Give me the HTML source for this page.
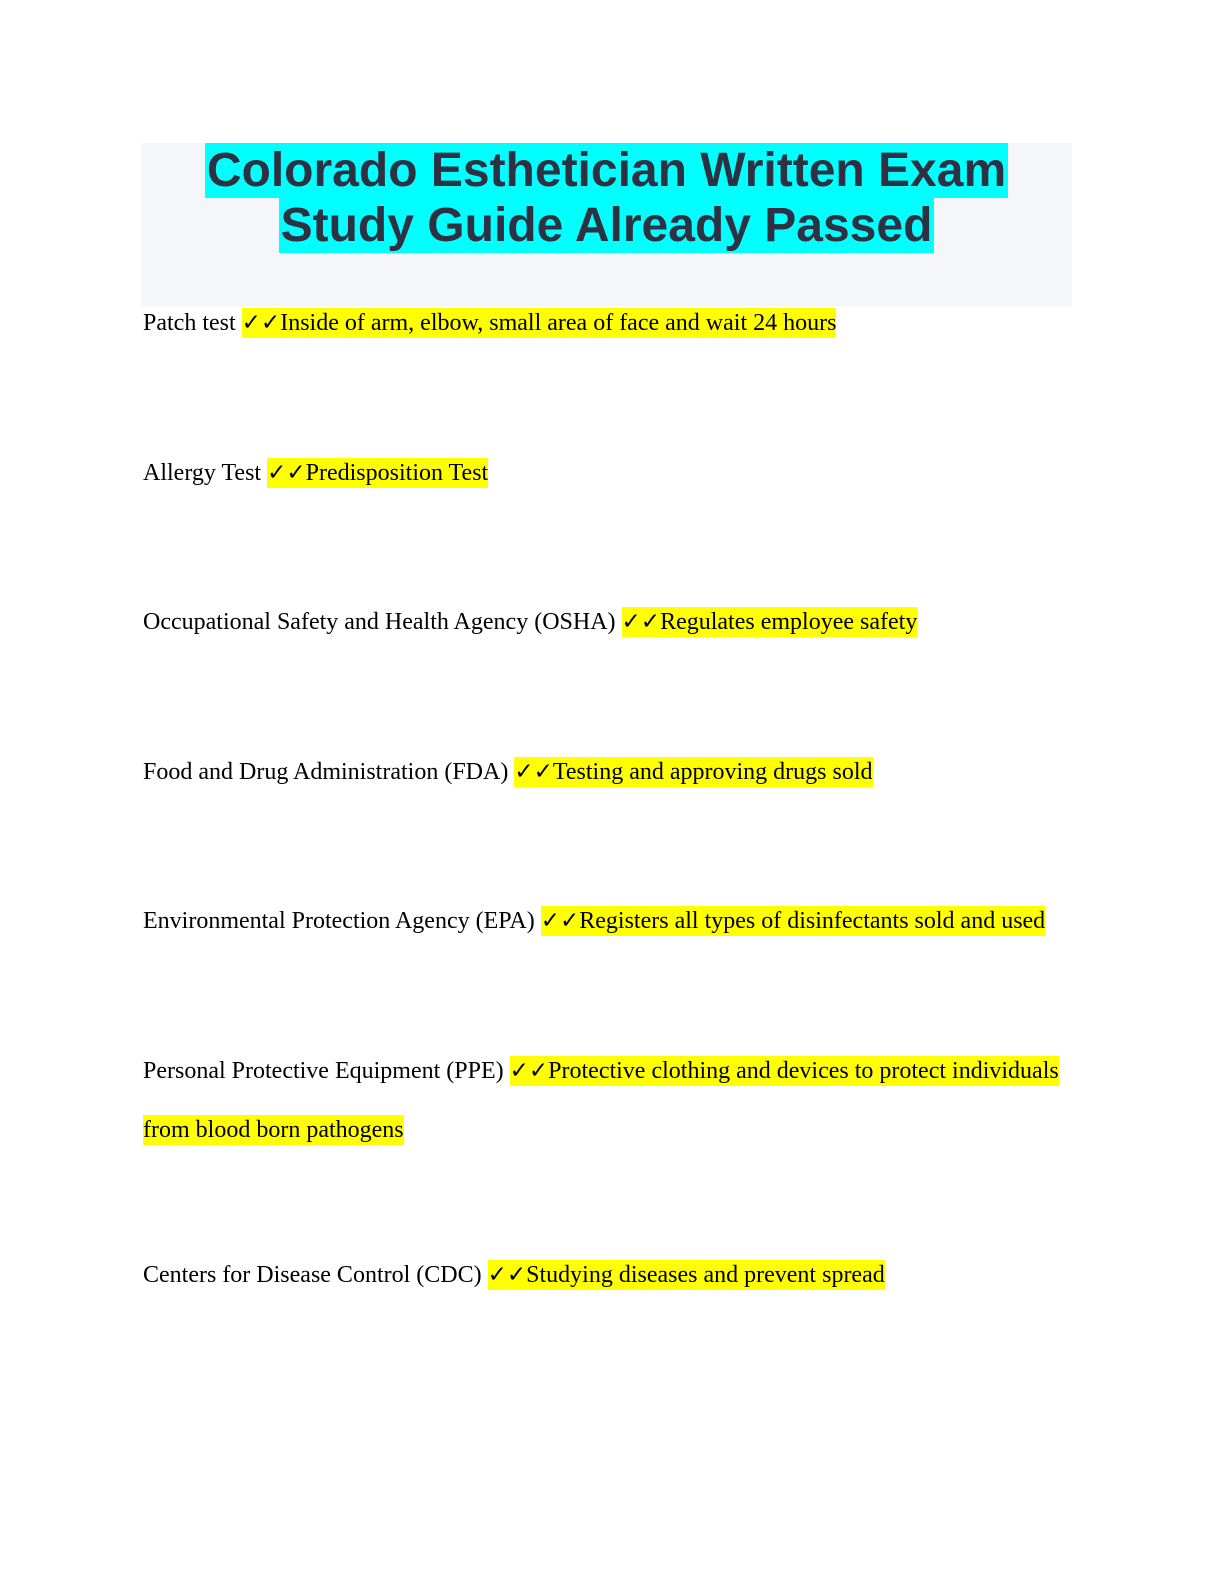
<!DOCTYPE html>
<html><head><meta charset="utf-8"><style>
html,body{margin:0;padding:0;background:#fff;width:1224px;height:1584px;position:relative;overflow:hidden}
.box{position:absolute;left:141px;top:143px;width:931px;height:163px;background:#f5f6fa}
.t{position:absolute;left:141px;width:931px;text-align:center;font-family:"Liberation Sans",sans-serif;font-weight:bold;font-size:48px;line-height:55px;color:#2d3142}
.t span{background:#00ffff;display:inline-block;padding:0 2px}
.l{position:absolute;left:143px;font-family:"Liberation Serif",serif;font-size:24px;line-height:30px;color:#000;white-space:nowrap}
.h{background:#ffff00;display:inline-block;height:30px}
.c{font-family:"DejaVu Sans",sans-serif;font-weight:bold;font-size:23px}
</style></head><body>
<div class="box"></div>
<div class="t" style="top:143px"><span>Colorado Esthetician Written Exam</span></div>
<div class="t" style="top:198px"><span>Study Guide Already Passed</span></div>
<div class="l" style="top:308px">Patch test <span class="h"><span class="c">✓✓</span>Inside of arm, elbow, small area of face and wait 24 hours</span></div>
<div class="l" style="top:458px">Allergy Test <span class="h"><span class="c">✓✓</span>Predisposition Test</span></div>
<div class="l" style="top:607px">Occupational Safety and Health Agency (OSHA) <span class="h"><span class="c">✓✓</span>Regulates employee safety</span></div>
<div class="l" style="top:757px">Food and Drug Administration (FDA) <span class="h"><span class="c">✓✓</span>Testing and approving drugs sold</span></div>
<div class="l" style="top:906px">Environmental Protection Agency (EPA) <span class="h"><span class="c">✓✓</span>Registers all types of disinfectants sold and used</span></div>
<div class="l" style="top:1056px">Personal Protective Equipment (PPE) <span class="h"><span class="c">✓✓</span>Protective clothing and devices to protect individuals</span></div>
<div class="l" style="top:1115px"><span class="h">from blood born pathogens</span></div>
<div class="l" style="top:1260px">Centers for Disease Control (CDC) <span class="h"><span class="c">✓✓</span>Studying diseases and prevent spread</span></div>
</body></html>
